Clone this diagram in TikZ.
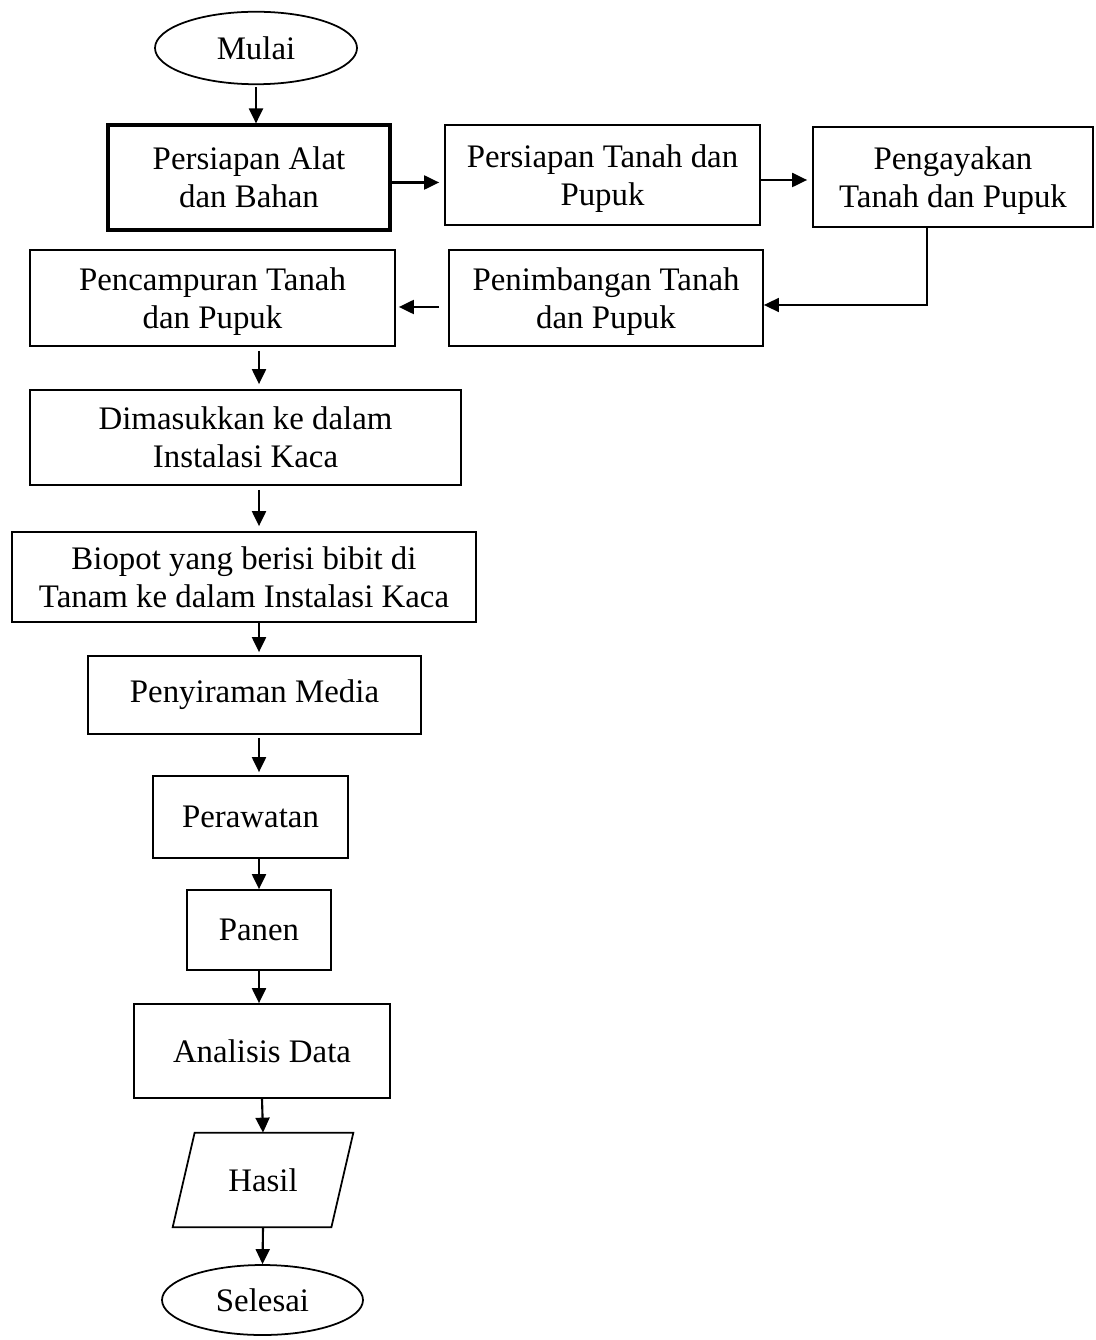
\documentclass[tikz,border=0pt]{standalone}
\usepackage{fontspec}
\setmainfont{Liberation Serif}
\usetikzlibrary{arrows.meta,positioning,shapes.geometric}
\tikzset{
  proses/.style={draw, line width=1pt, align=center, inner sep=0pt, font=\fontsize{18.7}{21.6}\selectfont},
  duabaris/.style={text depth=-7pt},
  prosestebal/.style={proses, line width=1.8pt},
  terminal/.style={draw, ellipse, line width=1pt, inner sep=0pt, font=\fontsize{18.7}{21.6}\selectfont},
  io/.style={inner sep=0pt, font=\fontsize{18.7}{21.6}\selectfont},
  arrow/.style={-{Triangle[length=3mm,width=2.8mm]}, line width=1.2pt}
}
\begin{document}
\begin{tikzpicture}[x=1cm,y=1cm]
  \useasboundingbox (0,0) rectangle (21.9,-26.8);
  \node[terminal,minimum width=4.04cm,minimum height=1.45cm] (mulai) at (5.12,-0.96) {Mulai};
  \node[prosestebal,duabaris,minimum width=5.64cm,minimum height=2.1cm] (alat) at (4.98,-3.55) {Persiapan Alat\\dan Bahan};
  \node[proses,duabaris,minimum width=6.3cm,minimum height=2.0cm] (tanah) at (12.05,-3.5) {Persiapan Tanah dan\\Pupuk};
  \node[proses,duabaris,minimum width=5.6cm,minimum height=2.0cm] (ayak) at (19.06,-3.54) {Pengayakan\\Tanah dan Pupuk};
  \node[proses,duabaris,minimum width=6.28cm,minimum height=1.92cm] (timbang) at (12.12,-5.96) {Penimbangan Tanah\\dan Pupuk};
  \node[proses,duabaris,minimum width=7.3cm,minimum height=1.92cm] (campur) at (4.25,-5.96) {Pencampuran Tanah\\dan Pupuk};
  \node[proses,duabaris,minimum width=8.62cm,minimum height=1.9cm] (masuk) at (4.91,-8.75) {Dimasukkan ke dalam\\Instalasi Kaca};
  \node[proses,minimum width=9.28cm,minimum height=1.8cm] (biopot) at (4.88,-11.54) {Biopot yang berisi bibit di\\Tanam ke dalam Instalasi Kaca};
  \node[proses,minimum width=6.66cm,minimum height=1.56cm] (siram) at (5.09,-13.9) {Penyiraman Media};
  \node[proses,minimum width=3.9cm,minimum height=1.64cm] (rawat) at (5.01,-16.34) {Perawatan};
  \node[proses,minimum width=2.88cm,minimum height=1.6cm] (panen) at (5.18,-18.6) {Panen};
  \node[proses,minimum width=5.12cm,minimum height=1.88cm] (analisis) at (5.24,-21.02) {Analisis Data};
  \node[io,minimum width=3.6cm,minimum height=1.88cm] (hasil) at (5.26,-23.6) {Hasil};
  \draw[line width=1pt] ([xshift=0.44cm]hasil.north west) -- (hasil.north east)
    -- ([xshift=-0.44cm]hasil.south east) -- (hasil.south west) -- cycle;
  \node[terminal,minimum width=4.02cm,minimum height=1.4cm] (selesai) at (5.25,-26.0) {Selesai};
  % alur atas
  \draw[arrow] ([yshift=-0.04cm]mulai.south) -- (mulai.south |- alat.north);
  \draw[arrow] ([yshift=-0.1cm]alat.east) -- ([yshift=-0.1cm,xshift=-0.1cm]alat.east -| tanah.west);
  \draw[arrow] ([yshift=-0.1cm]tanah.east) -- ([yshift=-0.1cm,xshift=-0.1cm]tanah.east -| ayak.west);
  \draw[line width=0.9pt,-{Triangle[length=3mm,width=2.8mm]}] ([xshift=-0.52cm]ayak.south) |- ([yshift=-0.14cm]timbang.east);
  \draw[arrow] ([yshift=-0.18cm,xshift=-0.18cm]timbang.west) -- ([yshift=-0.18cm,xshift=0.06cm]campur.east);
  % alur bawah
  \draw[arrow] ([yshift=-0.08cm]campur.south -| panen) -- ([yshift=0.1cm]masuk.north -| panen);
  \draw[arrow] ([yshift=-0.08cm]masuk.south -| panen) -- ([yshift=0.1cm]biopot.north -| panen);
  \draw[arrow] (biopot.south -| panen) -- ([yshift=0.06cm]siram.north -| panen);
  \draw[arrow] ([yshift=-0.06cm]siram.south -| panen) -- ([yshift=0.06cm]rawat.north -| panen);
  \draw[arrow] (rawat.south -| panen) -- (panen.north);
  \draw[arrow] (panen.south) -- (panen.south |- analisis.north);
  \draw[arrow] (analisis.south) -- (hasil.north);
  \draw[arrow] (hasil.south) -- (selesai.north);
\end{tikzpicture}
\end{document}
